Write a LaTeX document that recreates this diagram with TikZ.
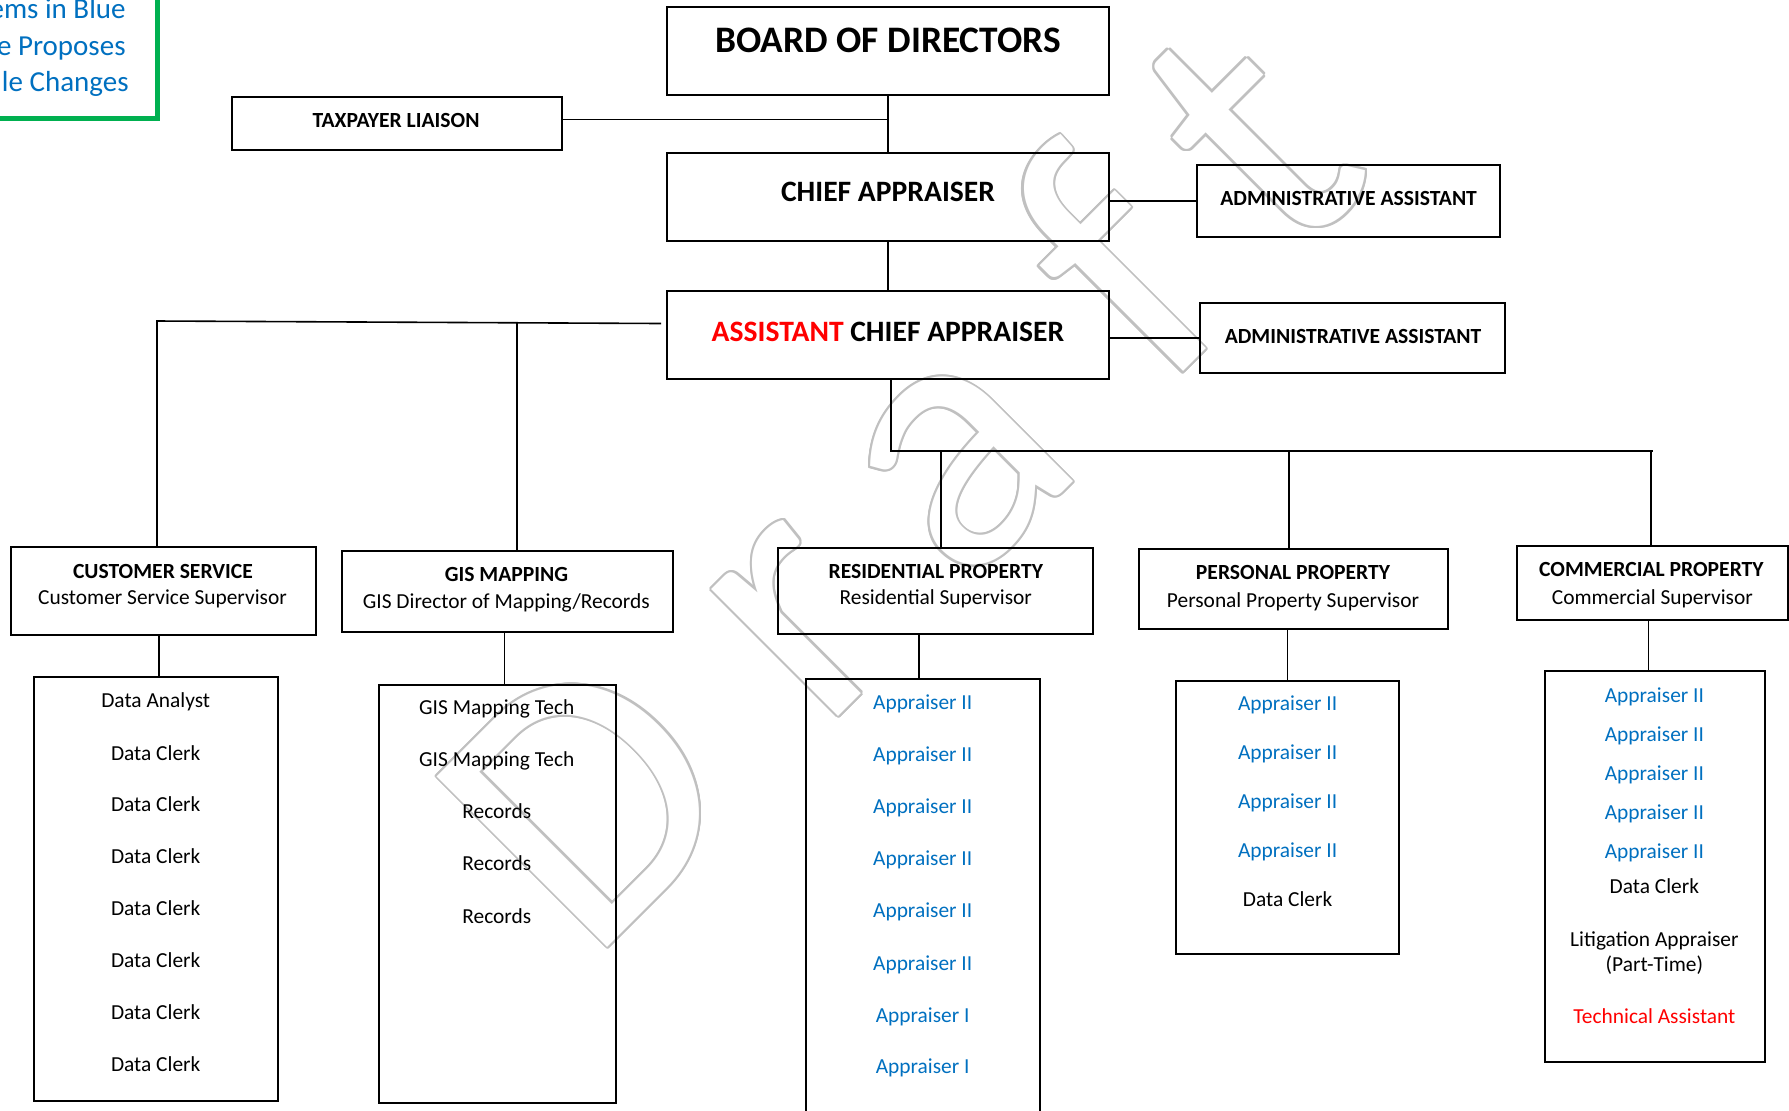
\documentclass[tikz,border=0pt]{standalone}
\usepackage{fontspec}
\setmainfont{Carlito}
\usetikzlibrary{fit}
\definecolor{ablue}{RGB}{0,112,192}
\definecolor{ared}{RGB}{255,0,0}
\definecolor{agreen}{RGB}{0,176,80}
\definecolor{wmgray}{RGB}{192,192,192}
\begin{document}
\begin{tikzpicture}[x=0.5pt,y=-0.5pt,
  box/.style={draw=black, line width=1pt, inner sep=0pt},
  conn/.style={draw=black, line width=0.8pt},
  lbl/.style={inner sep=0pt, text height=6.75pt, text depth=0pt, font=\fontsize{10.7pt}{13pt}\selectfont},
  hdr/.style={lbl, font=\fontsize{10.8pt}{13pt}\selectfont\bfseries},
  aast/.style={inner sep=0pt, text height=6.8pt, text depth=0pt, font=\fontsize{10.8pt}{13pt}\selectfont\bfseries},
  big/.style={inner sep=0pt, text height=9.3pt, text depth=0pt, font=\fontsize{14.8pt}{17pt}\selectfont\bfseries},
  huge/.style={inner sep=0pt, text height=11.8pt, text depth=0pt, font=\fontsize{18.7pt}{22pt}\selectfont\bfseries},
  blu/.style={lbl, text=ablue},
  leg/.style={inner sep=0pt, anchor=base east, text=ablue, font=\fontsize{14.5pt}{17pt}\selectfont},
  wm/.style={inner sep=0pt, anchor=base west, rotate=45, font=\fontsize{188pt}{200pt}\selectfont}
]
\useasboundingbox (0,0) rectangle (1789,1110);
\fill[white] (0,0) rectangle (1789,1110);

% watermark "Draft": gray outline (drawn first, behind the chart)
\foreach \nm/\px/\py/\ch in {D/589.4/965.6/D, r/821.3/733.7/r, a/962.1/592.9/a, f/1160.8/394.2/f, t/1290.2/264.8/t}{
  \foreach \a in {0,30,...,330}{
    \node[wm, text=wmgray, shift={(\a:1.1pt)}] (wm\nm-\a) at (\px,\py) {\ch};
  }
  \node[wm, text=white] (wm\nm) at (\px,\py) {\ch};
}

% legend
\node[draw=agreen, line width=2.5pt, inner sep=0pt, fit={(-20,-20) (157,118.5)}] (legend) {};
\node[leg] (leg1) at (126,18) {ems in Blue};
\node[leg] (leg2) at (126,55) {e Proposes};
\node[leg] (leg3) at (129,91) {le Changes};

% top boxes
\node[box, fit={(667,7) (1109,95)}] (board) {};
\node[huge] (boardt) at (888,41) {BOARD OF DIRECTORS};
\node[box, fit={(232,97) (562,150)}] (tax) {};
\node[hdr] (taxt) at (396,121) {TAXPAYER LIAISON};
\node[box, fit={(667,153) (1109,241)}] (chief) {};
\node[big] (chieft) at (888,192) {CHIEF APPRAISER};
\node[box, fit={(667,291) (1109,379)}] (aca) {};
\node[big] (acat) at (888,332) {\textcolor{ared}{ASSISTANT} CHIEF APPRAISER};
\node[box, fit={(1197,165) (1500,237)}] (aa1) {};
\node[aast] (aa1t) at (1348.6,198.5) {ADMINISTRATIVE ASSISTANT};
\node[box, fit={(1200,303) (1505,373)}] (aa2) {};
\node[aast] (aa2t) at (1353,336.7) {ADMINISTRATIVE ASSISTANT};

% department boxes
\node[box, fit={(11,547) (316,635)}] (cs) {};
\node[hdr] (cst) at (163,571.4) {CUSTOMER SERVICE};
\node[lbl] (css) at (162.5,597.6) {Customer Service Supervisor};
\node[box, fit={(342,551) (673,632)}] (gis) {};
\node[hdr] (gist) at (506.5,575) {GIS MAPPING};
\node[lbl] (giss) at (506.3,601.5) {GIS Director of Mapping/Records};
\node[box, fit={(778,548) (1093,634)}] (res) {};
\node[hdr] (rest) at (935.8,571.4) {RESIDENTIAL PROPERTY};
\node[lbl] (ress) at (935.8,597.6) {Residential Supervisor};
\node[box, fit={(1139,549) (1448,629)}] (pp) {};
\node[hdr] (ppt) at (1293,573) {PERSONAL PROPERTY};
\node[lbl] (pps) at (1293,600.4) {Personal Property Supervisor};
\node[box, fit={(1517,546) (1788,620)}] (com) {};
\node[hdr] (comt) at (1651.4,570.2) {COMMERCIAL PROPERTY};
\node[lbl] (coms) at (1652.4,597.6) {Commercial Supervisor};

% list boxes
\node[box, fit={(34,677) (278,1101)}] (cslist) {};
\node[box, fit={(379,685) (616,1103)}] (gislist) {};
\node[box, fit={(806,679) (1040,1130)}] (reslist) {};
\node[box, fit={(1176,681) (1399,954)}] (pplist) {};
\node[box, fit={(1545,671) (1765,1062)}] (comlist) {};

% customer service items
\node[lbl] (cs1) at (155.7,701) {Data Analyst};
\node[lbl] (cs2) at (155.7,753.3) {Data Clerk};
\node[lbl] (cs3) at (155.7,805.2) {Data Clerk};
\node[lbl] (cs4) at (155.7,857.1) {Data Clerk};
\node[lbl] (cs5) at (155.7,909) {Data Clerk};
\node[lbl] (cs6) at (155.7,961) {Data Clerk};
\node[lbl] (cs7) at (155.7,1012.9) {Data Clerk};
\node[lbl] (cs8) at (155.7,1065.1) {Data Clerk};

% GIS items
\node[lbl] (g1) at (496.8,707.4) {GIS Mapping Tech};
\node[lbl] (g2) at (496.8,760) {GIS Mapping Tech};
\node[lbl] (g3) at (496.8,812) {Records};
\node[lbl] (g4) at (496.8,864) {Records};
\node[lbl] (g5) at (496.8,917) {Records};

% residential items
\node[blu] (r1) at (922.7,702.4) {Appraiser II};
\node[blu] (r2) at (922.7,755) {Appraiser II};
\node[blu] (r3) at (922.7,807) {Appraiser II};
\node[blu] (r4) at (922.7,859) {Appraiser II};
\node[blu] (r5) at (922.7,911) {Appraiser II};
\node[blu] (r6) at (922.7,963.3) {Appraiser II};
\node[blu] (r7) at (922.7,1015.4) {Appraiser I};
\node[blu] (r8) at (922.7,1066.8) {Appraiser I};

% personal property items
\node[blu] (p1) at (1287.6,704) {Appraiser II};
\node[blu] (p2) at (1287.6,753) {Appraiser II};
\node[blu] (p3) at (1287.6,802) {Appraiser II};
\node[blu] (p4) at (1287.6,851) {Appraiser II};
\node[lbl] (p5) at (1287.6,900) {Data Clerk};

% commercial items
\node[blu] (c1) at (1654.4,695.5) {Appraiser II};
\node[blu] (c2) at (1654.4,734.5) {Appraiser II};
\node[blu] (c3) at (1654.4,773.3) {Appraiser II};
\node[blu] (c4) at (1654.4,812.3) {Appraiser II};
\node[blu] (c5) at (1654.4,851.5) {Appraiser II};
\node[lbl] (c6) at (1654.4,886.7) {Data Clerk};
\node[lbl] (c7) at (1654.4,939.3) {Litigation Appraiser};
\node[lbl] (c8) at (1654.4,965.2) {(Part-Time)};
\node[lbl, text=ared] (c9) at (1654.4,1017) {Technical Assistant};

% connectors, top
\coordinate (taxj) at (888,119.3);
\draw[conn] (board.south) -- (chief.north);
\draw[conn] (tax.east |- taxj) -- (taxj);
\draw[conn] (chief.east |- aa1.west) -- (aa1.west);
\draw[conn] (chief.south) -- (aca.north);
\draw[conn] (aca.east |- aa2.west) -- (aa2.west);

% left bus
\coordinate (lb1) at (661,323.5);
\coordinate (lb2) at (157,321);
\coordinate (gj) at (517,322);
\draw[conn] (lb1) -- (lb2) -- (lb2 |- cs.north);
\draw[conn] (gj) -- (gj |- gis.north);

% right bus
\coordinate (rb1) at (891,451);
\coordinate (rb2) at (1653,451);
\coordinate (rj1) at (941,451);
\coordinate (rj2) at (1289,451);
\coordinate (rj3) at (1651,451);
\draw[conn] (rb1 |- aca.south) -- (rb1) -- (rb2);
\draw[conn] (rj1) -- (rj1 |- res.north);
\draw[conn] (rj2) -- (rj2 |- pp.north);
\draw[conn] (rj3) -- (rj3 |- com.north);

% department to list
\coordinate (cx1) at (159,0);
\coordinate (cx2) at (504.4,0);
\coordinate (cx3) at (919,0);
\coordinate (cx4) at (1287,0);
\coordinate (cx5) at (1648.6,0);
\draw[conn] (cx1 |- cs.south) -- (cx1 |- cslist.north);
\draw[conn] (cx2 |- gis.south) -- (cx2 |- gislist.north);
\draw[conn, line width=1.2pt] (cx3 |- res.south) -- (cx3 |- reslist.north);
\draw[conn, line width=0.5pt] (cx4 |- pp.south) -- (cx4 |- pplist.north);
\draw[conn] (cx5 |- com.south) -- (cx5 |- comlist.north);
\end{tikzpicture}
\end{document}
